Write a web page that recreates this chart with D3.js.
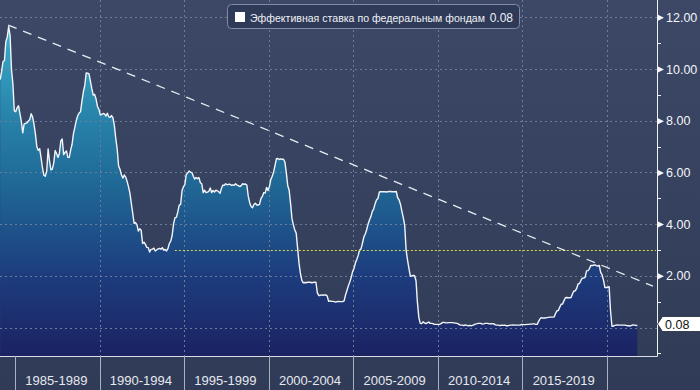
<!DOCTYPE html>
<html>
<head>
<meta charset="utf-8">
<script src="https://cdn.jsdelivr.net/npm/d3@7"></script>
<style>
  html, body { margin: 0; padding: 0; background: #36425f; }
  svg { display: block; font-family: "Liberation Sans", Arial, sans-serif; }
</style>
</head>
<body>
<svg id="chart" width="700" height="390"></svg>
<script>
// ---- DATA ----
const seriesName = "Эффективная ставка по федеральным фондам";
const lastValueLabel = "0.08";
const startYear = 1984;
const startMonth = 2; // first value is February 1984 (monthly averages)
const fedFundsRate = [
  /*1984*/ 9.59, 9.91, 10.29, 10.32, 11.06, 11.23, 11.64, 11.30, 9.99, 9.43, 8.38,
  /*1985*/ 8.35, 8.50, 8.58, 8.27, 7.97, 7.53, 7.88, 7.90, 7.92, 7.99, 8.05, 8.27,
  /*1986*/ 8.14, 7.86, 7.48, 6.99, 6.85, 6.92, 6.56, 6.17, 5.89, 5.85, 6.04, 6.91,
  /*1987*/ 6.43, 6.10, 6.13, 6.37, 6.85, 6.73, 6.58, 6.73, 7.22, 7.29, 6.69, 6.77,
  /*1988*/ 6.83, 6.58, 6.58, 6.87, 7.09, 7.51, 7.75, 8.01, 8.19, 8.30, 8.35, 8.76,
  /*1989*/ 9.12, 9.36, 9.85, 9.84, 9.81, 9.53, 9.24, 8.99, 9.02, 8.84, 8.55, 8.45,
  /*1990*/ 8.23, 8.24, 8.28, 8.26, 8.18, 8.29, 8.15, 8.13, 8.20, 8.11, 7.81, 7.31,
  /*1991*/ 6.91, 6.25, 6.12, 5.91, 5.78, 5.90, 5.82, 5.66, 5.45, 5.21, 4.81, 4.43,
  /*1992*/ 4.03, 4.06, 3.98, 3.73, 3.82, 3.76, 3.25, 3.30, 3.22, 3.10, 3.09, 2.92,
  /*1993*/ 3.02, 3.03, 3.07, 2.96, 3.00, 3.04, 3.06, 3.03, 3.09, 2.99, 3.02, 2.96,
  /*1994*/ 3.05, 3.25, 3.34, 3.56, 4.01, 4.25, 4.26, 4.47, 4.73, 4.76, 5.29, 5.45,
  /*1995*/ 5.53, 5.92, 5.98, 6.05, 6.01, 6.00, 5.85, 5.74, 5.80, 5.76, 5.80, 5.60,
  /*1996*/ 5.56, 5.22, 5.31, 5.22, 5.24, 5.27, 5.40, 5.22, 5.30, 5.24, 5.31, 5.29,
  /*1997*/ 5.25, 5.19, 5.39, 5.51, 5.50, 5.56, 5.52, 5.54, 5.54, 5.50, 5.52, 5.50,
  /*1998*/ 5.56, 5.51, 5.49, 5.45, 5.49, 5.56, 5.54, 5.55, 5.51, 5.07, 4.83, 4.68,
  /*1999*/ 4.63, 4.76, 4.81, 4.74, 4.74, 4.76, 4.99, 5.07, 5.22, 5.20, 5.42, 5.30,
  /*2000*/ 5.45, 5.73, 5.85, 6.02, 6.27, 6.53, 6.54, 6.50, 6.52, 6.51, 6.51, 6.40,
  /*2001*/ 5.98, 5.49, 5.31, 4.80, 4.21, 3.97, 3.77, 3.65, 3.07, 2.49, 2.09, 1.82,
  /*2002*/ 1.73, 1.74, 1.73, 1.75, 1.75, 1.75, 1.73, 1.74, 1.75, 1.75, 1.34, 1.24,
  /*2003*/ 1.24, 1.26, 1.25, 1.26, 1.26, 1.22, 1.01, 1.03, 1.01, 1.01, 1.00, 0.98,
  /*2004*/ 1.00, 1.01, 1.00, 1.00, 1.00, 1.03, 1.26, 1.43, 1.61, 1.76, 1.93, 2.16,
  /*2005*/ 2.28, 2.50, 2.63, 2.79, 3.00, 3.04, 3.26, 3.50, 3.62, 3.78, 4.00, 4.16,
  /*2006*/ 4.29, 4.49, 4.59, 4.79, 4.94, 4.99, 5.24, 5.25, 5.25, 5.25, 5.25, 5.24,
  /*2007*/ 5.25, 5.26, 5.26, 5.25, 5.25, 5.25, 5.26, 5.02, 4.94, 4.76, 4.49, 4.24,
  /*2008*/ 3.94, 2.98, 2.61, 2.28, 1.98, 2.00, 2.01, 2.00, 1.81, 0.97, 0.39, 0.16,
  /*2009*/ 0.15, 0.22, 0.18, 0.15, 0.18, 0.21, 0.16, 0.16, 0.15, 0.12, 0.12, 0.12,
  /*2010*/ 0.11, 0.13, 0.16, 0.20, 0.20, 0.18, 0.18, 0.19, 0.19, 0.19, 0.19, 0.18,
  /*2011*/ 0.17, 0.16, 0.14, 0.10, 0.09, 0.09, 0.07, 0.10, 0.08, 0.07, 0.08, 0.07,
  /*2012*/ 0.08, 0.10, 0.13, 0.14, 0.16, 0.16, 0.16, 0.13, 0.14, 0.16, 0.16, 0.16,
  /*2013*/ 0.14, 0.15, 0.14, 0.15, 0.11, 0.09, 0.09, 0.08, 0.08, 0.09, 0.08, 0.09,
  /*2014*/ 0.07, 0.07, 0.08, 0.09, 0.09, 0.10, 0.09, 0.09, 0.09, 0.09, 0.09, 0.12,
  /*2015*/ 0.11, 0.11, 0.11, 0.12, 0.12, 0.13, 0.13, 0.14, 0.14, 0.12, 0.12, 0.24,
  /*2016*/ 0.34, 0.38, 0.36, 0.37, 0.37, 0.38, 0.39, 0.40, 0.40, 0.40, 0.41, 0.54,
  /*2017*/ 0.65, 0.66, 0.79, 0.90, 0.91, 1.04, 1.15, 1.16, 1.15, 1.15, 1.16, 1.30,
  /*2018*/ 1.41, 1.42, 1.51, 1.69, 1.70, 1.82, 1.91, 1.91, 1.95, 2.19, 2.20, 2.27,
  /*2019*/ 2.40, 2.40, 2.41, 2.42, 2.39, 2.38, 2.40, 2.13, 2.04, 1.83, 1.55, 1.55,
  /*2020*/ 1.55, 1.58, 0.65, 0.05, 0.05, 0.08, 0.09, 0.10, 0.09, 0.09, 0.09, 0.09,
  /*2021*/ 0.09, 0.08, 0.07, 0.07, 0.06, 0.08, 0.10, 0.09, 0.08, 0.08
];
const periodStarts = [1985, 1990, 1995, 2000, 2005, 2010, 2015, 2020];
const periodLabels = ["1985-1989", "1990-1994", "1995-1999", "2000-2004", "2005-2009", "2010-2014", "2015-2019"];
const gridYears = [1990, 1995, 2000, 2005, 2010, 2015, 2020];
const yGridTicks = [0, 2, 4, 6, 8, 10, 12];
const yLabelTicks = [2, 4, 6, 8, 10, 12];
const yMinorTicks = [-1, 1, 3, 5, 7, 9, 11];
const trendYears = [1984.6, 2022.72];
const trendValues = [11.7, 1.6];
const thresholdValue = 3.0;
const thresholdYears = [1994.45, 2022.9];

// ---- LAYOUT ----
const W = 700, H = 390;
const plotLeft = 0, plotRight = 657, plotTop = 0, plotBottom = 356;

const x = d3.scaleLinear().domain([1985, 2020]).range([15, 607]);
const y = d3.scaleLinear().domain([0, 12]).range([327.5, 17.3]);

const data = fedFundsRate.map((v, i) => ({
  t: startYear + (startMonth - 1 + i + 0.5) / 12,
  v
}));

const svg = d3.select("#chart");
const defs = svg.append("defs");

const bg = defs.append("linearGradient").attr("id", "bg")
  .attr("x1", 0).attr("y1", 0).attr("x2", 0).attr("y2", 1);
bg.append("stop").attr("offset", 0).attr("stop-color", "#3c4866");
bg.append("stop").attr("offset", 1).attr("stop-color", "#303b57");

const fill = defs.append("linearGradient").attr("id", "areaFill")
  .attr("gradientUnits", "userSpaceOnUse")
  .attr("x1", 0).attr("y1", y(12)).attr("x2", 0).attr("y2", plotBottom);
[[0, "#3db2cd"], [0.3, "#2782aa"], [0.5, "#1f6795"], [0.75, "#1d3e7f"], [1, "#1b2262"]]
  .forEach(([o, c]) => fill.append("stop").attr("offset", o).attr("stop-color", c));

svg.append("rect").attr("width", W).attr("height", H).attr("fill", "url(#bg)");

defs.append("clipPath").attr("id", "plotClip").append("rect")
  .attr("x", plotLeft).attr("y", plotTop)
  .attr("width", plotRight - plotLeft).attr("height", plotBottom - plotTop);

const plot = svg.append("g").attr("clip-path", "url(#plotClip)");

// area
const area = d3.area().x(d => x(d.t)).y0(plotBottom).y1(d => y(d.v));
plot.append("path").datum(data).attr("d", area).attr("fill", "url(#areaFill)");

// grid
const gridColor = "#6e7c98";
plot.append("g").selectAll("line").data(yGridTicks).join("line")
  .attr("x1", plotLeft).attr("x2", plotRight)
  .attr("y1", d => Math.round(y(d)) + 0.5).attr("y2", d => Math.round(y(d)) + 0.5)
  .attr("stroke", gridColor).attr("stroke-width", 1).attr("stroke-dasharray", "2,3");
plot.append("g").selectAll("line").data(gridYears).join("line")
  .attr("x1", d => Math.round(x(d)) + 0.5).attr("x2", d => Math.round(x(d)) + 0.5)
  .attr("y1", plotTop).attr("y2", plotBottom)
  .attr("stroke", gridColor).attr("stroke-width", 1).attr("stroke-dasharray", "2,3");

// series line
const line = d3.line().x(d => x(d.t)).y(d => y(d.v));
plot.append("path").datum(data).attr("d", line)
  .attr("fill", "none").attr("stroke", "#f2f5fa").attr("stroke-width", 1.4)
  .attr("stroke-linejoin", "round");

// threshold (yellow dotted)
plot.append("line")
  .attr("x1", x(thresholdYears[0])).attr("x2", x(thresholdYears[1]))
  .attr("y1", Math.round(y(thresholdValue)) + 0.5).attr("y2", Math.round(y(thresholdValue)) + 0.5)
  .attr("stroke", "#d9d84a").attr("stroke-width", 1.2).attr("stroke-dasharray", "2,2");

// trend (white dashed)
plot.append("line")
  .attr("x1", x(trendYears[0])).attr("y1", y(trendValues[0]))
  .attr("x2", x(trendYears[1])).attr("y2", y(trendValues[1]))
  .attr("stroke", "#e8ecf2").attr("stroke-width", 1.3).attr("stroke-dasharray", "9,7");

// frame lines
svg.append("line").attr("x1", plotRight + 0.5).attr("x2", plotRight + 0.5)
  .attr("y1", 0).attr("y2", plotBottom + 0.5).attr("stroke", "#eef1f6").attr("stroke-width", 1);
svg.append("line").attr("x1", 0).attr("x2", plotRight + 0.5)
  .attr("y1", plotBottom + 0.5).attr("y2", plotBottom + 0.5).attr("stroke", "#d7dce6").attr("stroke-width", 1);

// y axis (right)
const yAxis = d3.axisRight(y).tickValues(yLabelTicks).tickSize(0).tickPadding(9)
  .tickFormat(d3.format(".2f"));
const yg = svg.append("g").attr("transform", `translate(${plotRight},0)`).call(yAxis);
yg.select(".domain").remove();
yg.selectAll("text").attr("fill", "#f4f6fa").attr("font-size", "12.5px")
  .attr("font-family", "Liberation Sans, Arial, sans-serif");
yg.selectAll(".tick").append("path")
  .attr("d", "M1,-3L7,0L1,3Z").attr("fill", "#f4f6fa");
svg.append("g").selectAll("line").data(yMinorTicks).join("line")
  .attr("x1", plotRight).attr("x2", plotRight + 4)
  .attr("y1", d => Math.round(y(d)) + 0.5).attr("y2", d => Math.round(y(d)) + 0.5)
  .attr("stroke", "#eef1f6").attr("stroke-width", 1);

// last value label
const lastY = y(fedFundsRate[fedFundsRate.length - 1]);
const lbl = svg.append("g").attr("transform", `translate(${plotRight},${Math.round(lastY) - 1})`);
lbl.append("path").attr("d", "M0.5,0L5.5,-7.5L44,-7.5L44,7.5L5.5,7.5Z")
  .attr("fill", "#ffffff").attr("stroke", "#20283a").attr("stroke-width", 0.8);
lbl.append("text").attr("x", 8).attr("y", 4.5).attr("font-size", "12.5px")
  .attr("fill", "#111").text(lastValueLabel);

// x axis band: separators and labels
const xg = svg.append("g");
xg.selectAll("line").data(periodStarts).join("line")
  .attr("x1", d => Math.round(x(d)) + 0.5).attr("x2", d => Math.round(x(d)) + 0.5)
  .attr("y1", plotBottom).attr("y2", H)
  .attr("stroke", "#aab2c2").attr("stroke-width", 1);
xg.selectAll("text").data(periodLabels).join("text")
  .attr("x", (d, i) => (x(periodStarts[i]) + x(periodStarts[i + 1])) / 2 - 1)
  .attr("y", 385).attr("text-anchor", "middle")
  .attr("font-size", "13px").attr("fill", "#e6e9ef").text(d => d);

// legend
const lg = svg.append("g");
lg.append("rect").attr("x", 227.5).attr("y", 4.5).attr("width", 292).attr("height", 24).attr("rx", 4)
  .attr("fill", "#2e3a57").attr("stroke", "#7f8ca6").attr("stroke-width", 1);
lg.append("rect").attr("x", 235).attr("y", 12).attr("width", 10).attr("height", 10).attr("fill", "#ffffff");
lg.append("text").attr("x", 250).attr("y", 21.5).attr("font-size", "10.8px").attr("fill", "#eef1f6")
  .attr("textLength", 235).attr("lengthAdjust", "spacingAndGlyphs")
  .text(seriesName);
lg.append("text").attr("x", 513).attr("y", 21.5).attr("text-anchor", "end")
  .attr("font-size", "12px").attr("fill", "#eef1f6")
  .text(lastValueLabel);
</script>
</body>
</html>
